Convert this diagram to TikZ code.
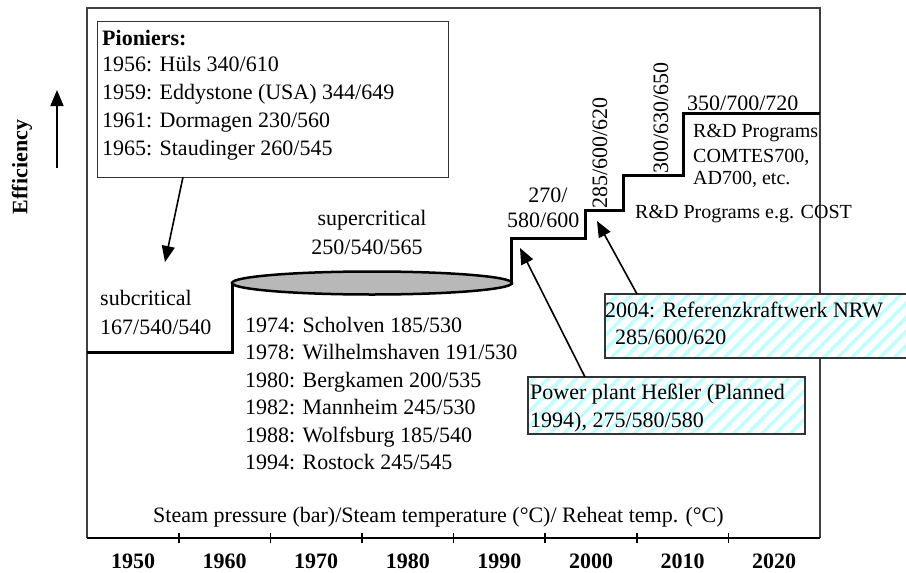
\documentclass[tikz,border=0pt]{standalone}
\usepackage{fontspec}
\setmainfont{Liberation Serif}
\usetikzlibrary{arrows.meta,shapes.geometric,patterns.meta}
\begin{document}
\begin{tikzpicture}[x=1pt,y=-1pt,
  txt/.style={inner sep=0pt,anchor=base west,font=\fontsize{22}{28}\selectfont},
  txtc/.style={inner sep=0pt,anchor=base,font=\fontsize{22}{28}\selectfont},
  txts/.style={inner sep=0pt,anchor=base west,font=\fontsize{20}{24}\selectfont},
  yr/.style={inner sep=0pt,anchor=base,font=\fontsize{22}{28}\selectfont\bfseries},
  stepline/.style={line width=3pt,line join=miter},
  frameline/.style={black!75,line width=1.2pt},
  boxline/.style={draw=black!80,line width=1.3pt},
  conn/.style={line width=1.6pt,-{Triangle[length=16pt,width=13pt]}},
  hatchbox/.style={fill=white,postaction={pattern={Lines[angle=45,distance=10pt,line width=3.5pt]},pattern color=cyan!25}}
]
\useasboundingbox (0,0) rectangle (906,573);
\fill[white] (0,0) rectangle (906,573);

% frame and axis
\draw[frameline] (87,538) -- (87,8) -- (820,8) -- (820,538);
\draw[line width=1.8pt] (87,538) -- (820,538);
\foreach \k in {0,...,6} {
  \draw[line width=1.5pt] ({178.8+91.6*\k},533) -- ++(0,10);
}
\foreach \k/\y in {0/1950,1/1960,2/1970,3/1980,4/1990,5/2000,6/2010,7/2020} {
  \node[yr] (yr\k) at ({133+91.6*\k},568) {\y};
}

% efficiency label and arrow
\node[inner sep=0pt,rotate=90,font=\fontsize{22}{28}\selectfont\bfseries] (eff) at (22,167) {Efficiency};
\coordinate (effs) at (57,168);
\coordinate (effe) at (57,90);
\draw[line width=1.6pt,-{Triangle[length=16pt,width=13pt]}] (effs) -- (effe);

% pioneers box
\node[boxline,draw,minimum width=351pt,minimum height=156pt,anchor=north west,inner sep=0pt] (pbox) at (97,21) {};
\node[txt,font=\fontsize{22}{28}\selectfont\bfseries] (p0) at (102,45) {Pioniers:};
\node[txt] (p1) at (102,71) {1956: Hüls 340/610};
\node[txt] (p2) at (102,99) {1959: Eddystone (USA) 344/649};
\node[txt] (p3) at (102,127) {1961: Dormagen 230/560};
\node[txt] (p4) at (102,155) {1965: Staudinger 260/545};
\coordinate (a1s) at (183,177);
\coordinate (a1e) at (165,262);
\draw[conn] (a1s) -- (a1e);

% step line
\draw[stepline] (87,352) -- (232,352) -- (232,283);
\node[ellipse,draw,line width=2.5pt,fill=black!28,minimum width=280pt,minimum height=23pt,inner sep=0pt] (ell) at (372,283) {};
\draw[stepline] (511,285) -- (511,238) -- (585,238) -- (585,210) -- (623,210) -- (623,175) -- (683,175) -- (683,113) -- (820,113);

% labels on steps
\node[txtc] (sc1) at (372,225) {supercritical};
\node[txtc] (sc2) at (367,254) {250/540/565};
\node[txt] (sub1) at (100,305) {subcritical};
\node[txt] (sub2) at (100,334) {167/540/540};
\node[txt] (r1) at (245,332) {1974: Scholven 185/530};
\node[txt] (r2) at (245,359) {1978: Wilhelmshaven 191/530};
\node[txt] (r3) at (245,387) {1980: Bergkamen 200/535};
\node[txt] (r4) at (245,414) {1982: Mannheim 245/530};
\node[txt] (r5) at (245,442) {1988: Wolfsburg 185/540};
\node[txt] (r6) at (245,469) {1994: Rostock 245/545};
\node[txt] (steam) at (153,522) {Steam pressure (bar)/Steam temperature (°C)/ Reheat temp. (°C)};

\node[txtc] (s270) at (548,202) {270/};
\node[txt] (s580) at (507,227) {580/600};
\node[txt,rotate=90] (s285) at (607,209) {285/600/620};
\node[txt,rotate=90] (s300) at (668,174) {300/630/650};
\node[txt] (s350) at (687,110) {350/700/720};
\node[txts] (rd1) at (693,137) {R\&D Programs};
\node[txts] (rd2) at (693,162) {COMTES700,};
\node[txts] (rd3) at (693,184) {AD700, etc.};
\node[txts] (cost) at (635,218) {R\&D Programs e.g. COST};

% hatched boxes
\fill[hatchbox] (605,294) rectangle (906,358);
\draw[boxline] (906,294) -- (605,294) -- (605,358) -- (906,358);
\coordinate (nrw) at (605,294);
\node[txt] (n1) at (605,317) {2004: Referenzkraftwerk NRW};
\node[txt] (n2) at (615,344) {285/600/620};

\fill[hatchbox] (528,377) rectangle (805,434);
\draw[boxline] (528,377) rectangle (805,434);
\node[txt] (h1) at (530,399) {Power plant Heßler (Planned};
\node[txt] (h2) at (530,427) {1994), 275/580/580};

\coordinate (a2s) at (585,377);
\coordinate (a2e) at (520,248);
\draw[conn] (a2s) -- (a2e);
\coordinate (a3s) at (637,294);
\coordinate (a3e) at (597,221);
\draw[conn] (a3s) -- (a3e);
\end{tikzpicture}
\end{document}
